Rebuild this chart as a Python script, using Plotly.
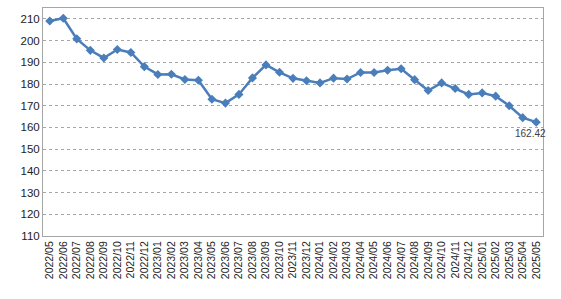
import plotly.graph_objects as go

months = ["2022/05","2022/06","2022/07","2022/08","2022/09","2022/10","2022/11","2022/12",
          "2023/01","2023/02","2023/03","2023/04","2023/05","2023/06","2023/07","2023/08",
          "2023/09","2023/10","2023/11","2023/12","2024/01","2024/02","2024/03","2024/04",
          "2024/05","2024/06","2024/07","2024/08","2024/09","2024/10","2024/11","2024/12",
          "2025/01","2025/02","2025/03","2025/04","2025/05"]
values = [209.0, 210.3, 200.8, 195.5, 192.0, 195.9, 194.5, 188.0,
          184.4, 184.5, 182.1, 181.7, 173.0, 171.2, 175.2, 182.8,
          188.8, 185.4, 182.6, 181.5, 180.5, 182.7, 182.3, 185.3,
          185.3, 186.3, 187.0, 182.0, 177.0, 180.5, 177.9, 175.2,
          175.9, 174.4, 170.0, 164.5, 162.42]
y_ticks = list(range(110, 211, 10))

line_color = "#4A7EBB"

fig = go.Figure()
fig.add_trace(go.Scatter(
    x=months, y=values, mode="lines+markers",
    line=dict(color=line_color, width=2.5),
    marker=dict(symbol="diamond", size=7, color=line_color),
    showlegend=False, cliponaxis=False,
))
fig.add_annotation(
    x=months[-1], y=values[-1], text=f"{values[-1]:.2f}",
    showarrow=False, yshift=-11, xshift=-6,
    font=dict(family="Liberation Sans, Arial", size=10, color="#404040"),
)
fig.update_layout(
    width=561, height=299,
    margin=dict(l=43, r=18, t=8, b=63),
    paper_bgcolor="white", plot_bgcolor="white",
    font=dict(family="Liberation Sans, Arial", size=11, color="#000000"),
)
fig.update_xaxes(
    type="category", tickangle=-90, showgrid=False,
    showline=True, linecolor="#A6A6A6", linewidth=1, mirror=True,
    ticks="", tickfont=dict(size=10.5, color="#222222"),
    range=[-0.5, len(months) - 0.5],
)
fig.update_yaxes(
    range=[110, 215], tickvals=y_ticks, showgrid=True,
    gridcolor="#A6A6A6", griddash="3px,3px", gridwidth=1,
    showline=True, linecolor="#A6A6A6", linewidth=1, mirror=True,
    ticks="", zeroline=False, tickfont=dict(size=11.5, color="#222222"),
)
fig.write_html("out.html")
